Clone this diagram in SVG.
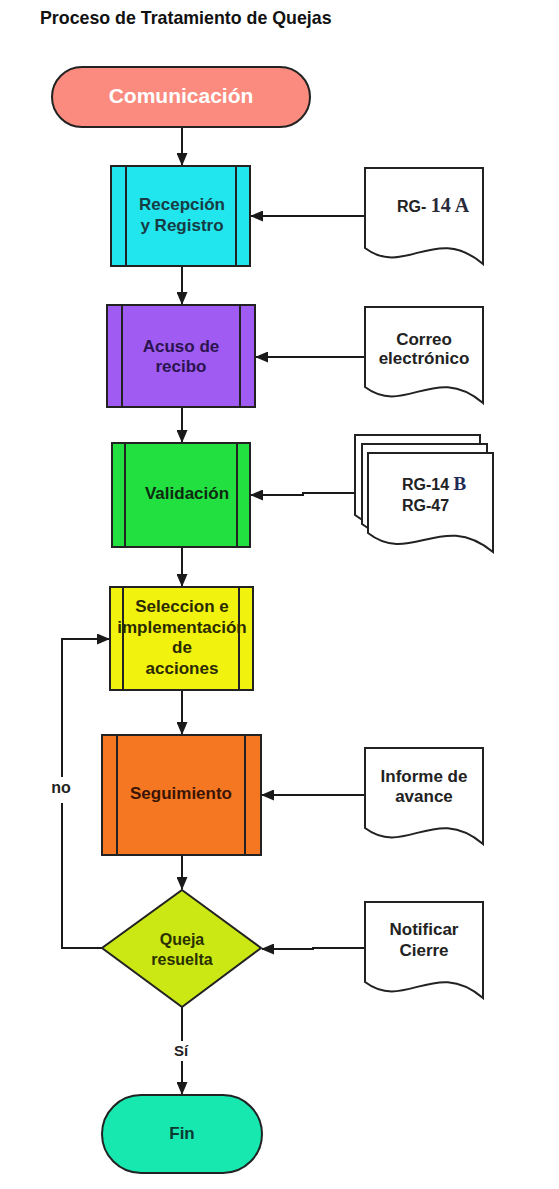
<svg xmlns="http://www.w3.org/2000/svg" xmlns:xlink="http://www.w3.org/1999/xlink" width="559" height="1189" viewBox="0 0 559 1189">
<style>
.t{font-family:"Liberation Sans",Arial,sans-serif;font-weight:bold;text-anchor:middle}
.s{font-family:"Liberation Serif","Times New Roman",serif;font-weight:bold}
.box{stroke:#222;stroke-width:2}
.bar{stroke:#222;stroke-width:2;fill:none}
.doc{fill:#fff;stroke:#222;stroke-width:2}
.c{stroke:#1a1a1a;stroke-width:2;fill:none}
</style>
<defs>
<marker id="ah" markerUnits="userSpaceOnUse" markerWidth="13" markerHeight="11" refX="12" refY="5.5" orient="auto">
<path d="M0,0 L13,5.5 L0,11 z" fill="#1a1a1a"/>
</marker>
<path id="docA" d="M0,0 H118 V96 C70,55 40,110 0,80 Z"/>
<path id="docB" d="M0,0 H125 V99 C74,57 42,113 0,80 Z"/>
</defs>
<rect width="559" height="1189" fill="#fff"/>
<text x="40" y="24" font-family="Liberation Sans,Arial,sans-serif" font-weight="bold" font-size="17.8" fill="#111">Proceso de Tratamiento de Quejas</text>

<g id="connectors">
<line class="c" x1="182" y1="127" x2="182" y2="165" marker-end="url(#ah)"/>
<line class="c" x1="182" y1="266" x2="182" y2="304" marker-end="url(#ah)"/>
<line class="c" x1="182" y1="407" x2="182" y2="442" marker-end="url(#ah)"/>
<line class="c" x1="182" y1="547" x2="182" y2="586" marker-end="url(#ah)"/>
<line class="c" x1="182" y1="690" x2="182" y2="734" marker-end="url(#ah)"/>
<line class="c" x1="182" y1="855" x2="182" y2="889" marker-end="url(#ah)"/>
<line class="c" x1="182" y1="1007" x2="182" y2="1041"/>
<line class="c" x1="182" y1="1061" x2="182" y2="1094" marker-end="url(#ah)"/>
<text class="t" x="181" y="1056" font-size="15" fill="#222">Sí</text>
<line class="c" x1="365" y1="216" x2="251" y2="216" marker-end="url(#ah)"/>
<line class="c" x1="365" y1="357" x2="256" y2="357" marker-end="url(#ah)"/>
<polyline class="c" points="355,493 303,493 303,495 251,495" marker-end="url(#ah)"/>
<line class="c" x1="365" y1="795" x2="262" y2="795" marker-end="url(#ah)"/>
<polyline class="c" points="365,948 313,948 313,949 262,949" marker-end="url(#ah)"/>
<polyline class="c" points="102,948 62,948 62,803"/>
<polyline class="c" points="62,777 62,639 109,639" marker-end="url(#ah)"/>
<text class="t" x="61" y="793" font-size="16" fill="#222">no</text>
</g>

<g id="comunicacion">
<rect x="52" y="67" width="258" height="60" rx="30" fill="#fa8b7e" class="box"/>
<text class="t" x="181" y="103" font-size="21" fill="#fff">Comunicación</text>
</g>

<g id="recepcion">
<rect x="111" y="166" width="139" height="100" fill="#22e6ee" class="box"/>
<path class="bar" d="M126,166 V266 M236,166 V266"/>
<text class="t" x="182" y="210" font-size="17" fill="#163b44">Recepción</text>
<text class="t" x="182" y="231" font-size="17" fill="#163b44">y Registro</text>
</g>

<g id="doc-rg14a">
<use xlink:href="#docA" x="365" y="168" class="doc"/>
<text x="397" y="212" font-family="Liberation Sans,Arial,sans-serif" font-weight="bold" font-size="16" fill="#222">RG- <tspan class="s" font-size="20" fill="#2a2a3a">14 A</tspan></text>
</g>

<g id="acuso">
<rect x="107" y="305" width="148" height="102" fill="#a05cf2" class="box"/>
<path class="bar" d="M122,305 V407 M240,305 V407"/>
<text class="t" x="181" y="352" font-size="17" fill="#2b1450">Acuso de</text>
<text class="t" x="181" y="372" font-size="17" fill="#2b1450">recibo</text>
</g>

<g id="doc-correo">
<use xlink:href="#docA" x="365" y="307" class="doc"/>
<text class="t" x="424" y="345" font-size="17" fill="#222">Correo</text>
<text class="t" x="424" y="364" font-size="17" fill="#222">electrónico</text>
</g>

<g id="validacion">
<rect x="112" y="443" width="138" height="104" fill="#22e040" class="box"/>
<path class="bar" d="M125,443 V547 M237,443 V547"/>
<text class="t" x="187" y="499" font-size="17" fill="#0d2a10">Validación</text>
</g>

<g id="doc-rg14b">
<use xlink:href="#docB" x="355" y="435" class="doc"/>
<use xlink:href="#docB" x="362" y="444" class="doc"/>
<use xlink:href="#docB" x="368" y="453" class="doc"/>
<text x="402" y="490" font-family="Liberation Sans,Arial,sans-serif" font-weight="bold" font-size="16" fill="#222">RG-14 <tspan class="s" font-size="19" fill="#1e2a55">B</tspan></text>
<text x="402" y="511" font-family="Liberation Sans,Arial,sans-serif" font-weight="bold" font-size="16" fill="#222">RG-47</text>
</g>

<g id="seleccion">
<rect x="110" y="587" width="143" height="103" fill="#f2f20f" class="box"/>
<path class="bar" d="M123,587 V690 M239,587 V690"/>
<text class="t" x="182" y="612" font-size="17" fill="#2a2a00">Seleccion e</text>
<text class="t" x="182" y="633" font-size="17" fill="#2a2a00">implementación</text>
<text class="t" x="182" y="653" font-size="17" fill="#2a2a00">de</text>
<text class="t" x="182" y="674" font-size="17" fill="#2a2a00">acciones</text>
</g>

<g id="seguimiento">
<rect x="102" y="735" width="159" height="120" fill="#f57722" class="box"/>
<path class="bar" d="M117,735 V855 M245,735 V855"/>
<text class="t" x="181" y="799" font-size="17" fill="#3a1504">Seguimiento</text>
</g>

<g id="doc-informe">
<use xlink:href="#docA" x="365" y="748" class="doc"/>
<text class="t" x="424" y="782" font-size="17" fill="#222">Informe de</text>
<text class="t" x="424" y="802" font-size="17" fill="#222">avance</text>
</g>

<g id="queja">
<polygon points="182,890 261,948 182,1007 102,948" fill="#cbe814" class="box"/>
<text class="t" x="182" y="945" font-size="16" fill="#2a3000">Queja</text>
<text class="t" x="182" y="965" font-size="16" fill="#2a3000">resuelta</text>
</g>

<g id="doc-notificar">
<use xlink:href="#docA" x="365" y="902" class="doc"/>
<text class="t" x="424" y="935" font-size="17" fill="#222">Notificar</text>
<text class="t" x="424" y="956" font-size="17" fill="#222">Cierre</text>
</g>

<g id="fin">
<rect x="102" y="1095" width="160" height="78" rx="39" fill="#16e8b0" class="box"/>
<text class="t" x="182" y="1139" font-size="17" fill="#0c3a30">Fin</text>
</g>
</svg>
